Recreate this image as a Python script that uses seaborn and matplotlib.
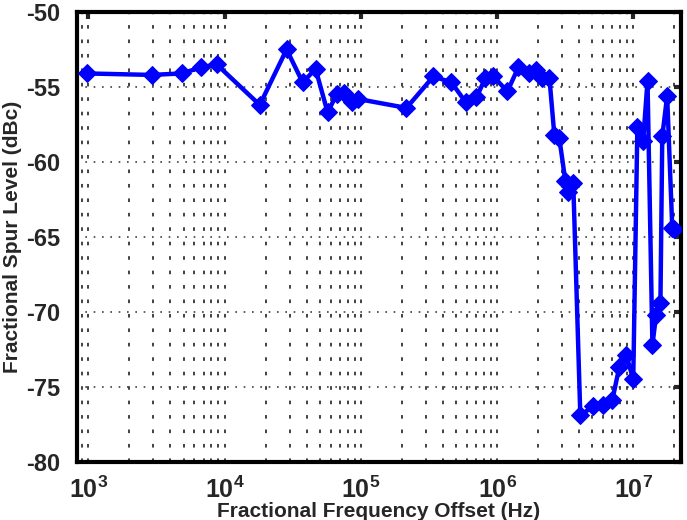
import numpy as np
import pandas as pd
import matplotlib
matplotlib.use("Agg")
import matplotlib.pyplot as plt
import matplotlib.ticker as mticker
import seaborn as sns

# Spur measurements: offset frequency (Hz) and spur level (dBc)
offset_hz = [970, 2920, 4850, 6680, 8750, 18100, 28500, 37400, 46500, 57000,
             66400, 74700, 85500, 94600, 216000, 341000, 462000, 586000, 705000,
             821000, 939000, 1.19e6, 1.43e6, 1.70e6, 1.94e6, 2.15e6, 2.42e6,
             2.63e6, 2.86e6, 3.17e6, 3.33e6, 3.62e6, 4.08e6, 5.08e6, 6.02e6,
             7.0e6, 7.88e6, 8.87e6, 9.98e6, 1.07e7, 1.18e7, 1.27e7, 1.38e7,
             1.47e7, 1.58e7, 1.63e7, 1.77e7, 1.93e7, 2.0e7]
spur_dbc = [-54.1, -54.2, -54.1, -53.7, -53.5, -56.2, -52.5, -54.7, -53.8, -56.7,
            -55.5, -55.4, -56.0, -55.8, -56.4, -54.3, -54.7, -56.0, -55.7,
            -54.4, -54.3, -55.3, -53.7, -54.1, -53.9, -54.4, -54.4,
            -58.2, -58.4, -61.3, -62.0, -61.4, -76.9, -76.3, -76.2,
            -75.9, -73.7, -72.9, -74.5, -57.7, -58.6, -54.6, -72.2,
            -70.2, -69.4, -58.3, -55.6, -64.4, -64.5]

y_ticks = [-80, -75, -70, -65, -60, -55, -50]
x_decades = [3, 4, 5, 6, 7]

sns.set_style("white")
plt.rcParams["font.family"] = ["Liberation Sans", "DejaVu Sans"]
plt.rcParams["axes.unicode_minus"] = False
plt.rcParams["mathtext.fontset"] = "custom"
plt.rcParams["mathtext.rm"] = "Liberation Sans"
plt.rcParams["mathtext.bf"] = "Liberation Sans:bold"

df = pd.DataFrame({"offset": offset_hz, "level": spur_dbc})

fig = plt.figure(figsize=(6.87, 5.20), dpi=100)
ax = fig.add_axes([0.112, 0.112, 0.879, 0.865])

sns.lineplot(data=df, x="offset", y="level", sort=False, ax=ax,
             color=(0, 0, 1), linewidth=3.2, marker="D", markersize=9,
             markeredgecolor=(0, 0, 1), markerfacecolor=(0, 0, 1), zorder=5)

ax.set_xscale("log")
ax.set_xlim(824, 2.23e7)
ax.set_ylim(-80, -50)

ax.set_yticks(y_ticks)
ax.set_yticklabels([str(t) for t in y_ticks])
ax.xaxis.set_major_locator(mticker.FixedLocator([10.0 ** d for d in x_decades]))
ax.xaxis.set_major_formatter(mticker.FuncFormatter(
    lambda v, p: r"$\mathbf{10^{%d}}$" % int(round(np.log10(v)))))
ax.xaxis.set_minor_locator(mticker.LogLocator(base=10, subs=np.arange(2, 10), numticks=20))
ax.xaxis.set_minor_formatter(mticker.NullFormatter())

# grid: dotted verticals at every decade subdivision, dotted horizontals at major y
ax.grid(True, which="both", axis="x", color="0.2", linestyle=(0, (2, 6)), linewidth=1.3)
ax.grid(True, which="major", axis="y", color="0.25", linestyle=(0, (1, 4)), linewidth=1.2)
ax.set_axisbelow(True)

for s in ax.spines.values():
    s.set_visible(True)
    s.set_color("black")
    s.set_linewidth(3)

ax.tick_params(axis="both", which="major", direction="in", length=5, width=3,
               top=True, right=True)
ax.tick_params(axis="y", which="major", pad=12, labelsize=17)
ax.tick_params(axis="x", which="major", pad=11, labelsize=18)
ax.tick_params(axis="x", which="minor", length=0)
for lab in ax.get_yticklabels() + ax.get_xticklabels():
    lab.set_fontweight("bold")

ax.set_xlabel("Fractional Frequency Offset (Hz)", fontsize=15, fontweight="bold", labelpad=-1)
ax.set_ylabel("Fractional Spur Level (dBc)", fontsize=15, fontweight="bold", labelpad=3)

fig.savefig("out.png", dpi=100)
